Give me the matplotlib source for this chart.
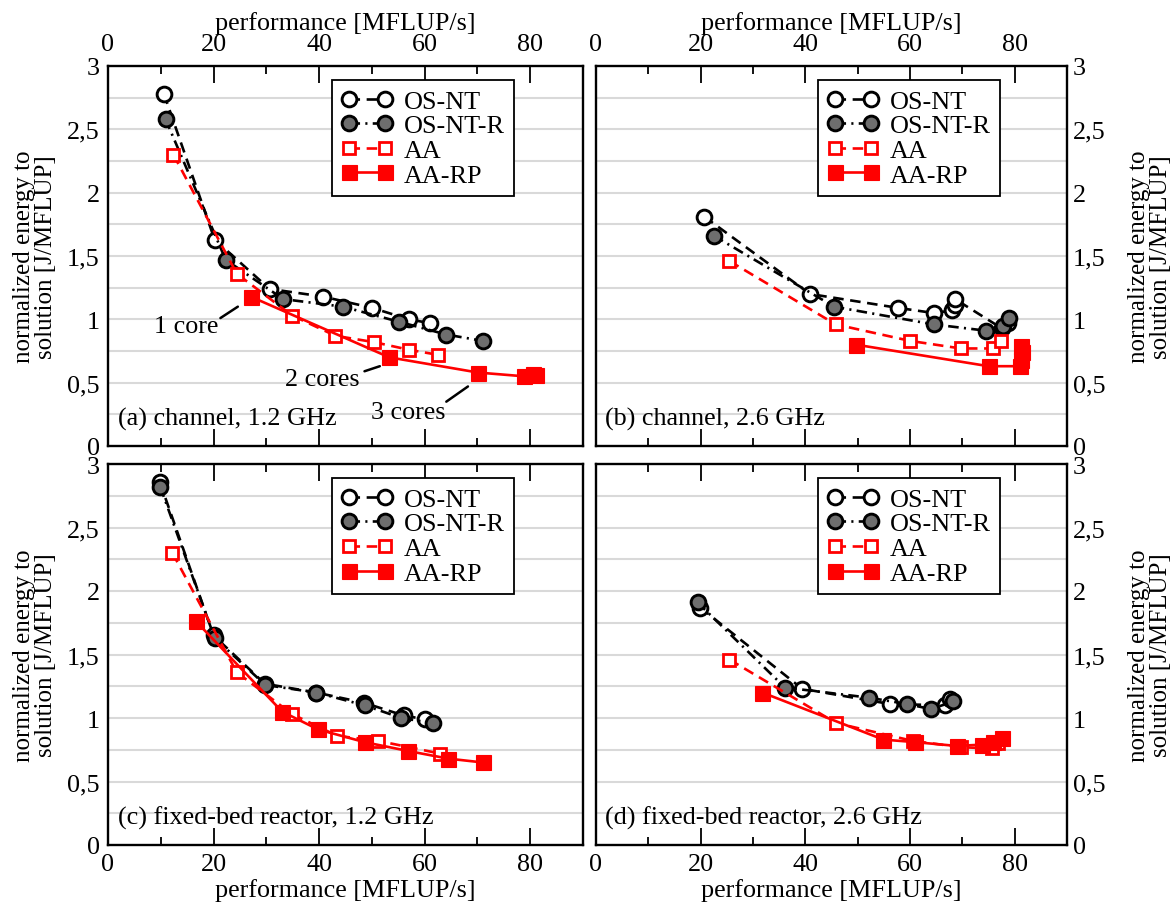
import matplotlib
matplotlib.use("Agg")
import matplotlib.pyplot as plt
from matplotlib.ticker import FixedLocator, FixedFormatter

plt.rcParams['font.family'] = ['Liberation Serif', 'DejaVu Serif']
plt.rcParams['font.size'] = 18.8

# ---------------- data ----------------
series_names = ["OS-NT", "OS-NT-R", "AA", "AA-RP"]
panel_titles = ["(a) channel, 1.2 GHz", "(b) channel, 2.6 GHz",
                "(c) fixed-bed reactor, 1.2 GHz", "(d) fixed-bed reactor, 2.6 GHz"]

# (a) channel 1.2 GHz
a_osnt_x = [10.6, 20.2, 30.6, 40.7, 50.1, 57.0, 61.0]
a_osnt_y = [2.78, 1.63, 1.24, 1.18, 1.09, 1.00, 0.97]
a_osntr_x = [10.9, 22.3, 33.2, 44.5, 55.2, 64.1, 71.0]
a_osntr_y = [2.58, 1.47, 1.16, 1.10, 0.98, 0.88, 0.83]
a_aa_x = [12.4, 24.4, 34.9, 43.1, 50.4, 57.0, 62.5]
a_aa_y = [2.30, 1.36, 1.03, 0.87, 0.82, 0.76, 0.72]
a_aarp_x = [27.0, 53.3, 70.1, 78.9, 80.5, 81.0]
a_aarp_y = [1.18, 0.70, 0.58, 0.55, 0.57, 0.56]

# (b) channel 2.6 GHz
b_osnt_x = [20.7, 40.9, 57.8, 64.5, 68.1, 68.6, 68.6, 77.5, 78.8]
b_osnt_y = [1.81, 1.20, 1.09, 1.05, 1.07, 1.11, 1.16, 0.93, 0.97]
b_osntr_x = [22.5, 45.5, 64.5, 74.6, 77.8, 79.0]
b_osntr_y = [1.66, 1.10, 0.96, 0.91, 0.95, 1.01]
b_aa_x = [25.5, 45.8, 60.0, 69.7, 75.9, 77.3]
b_aa_y = [1.46, 0.96, 0.83, 0.77, 0.77, 0.83]
b_aarp_x = [49.7, 75.0, 81.0, 81.3, 81.4, 81.2]
b_aarp_y = [0.80, 0.63, 0.63, 0.68, 0.74, 0.79]

# (c) fixed-bed reactor 1.2 GHz
c_osnt_x = [9.8, 20.0, 29.7, 39.5, 48.5, 56.0, 60.0]
c_osnt_y = [2.86, 1.65, 1.27, 1.20, 1.12, 1.02, 0.99]
c_osntr_x = [9.9, 20.2, 29.8, 39.5, 48.6, 55.6, 61.5]
c_osntr_y = [2.82, 1.63, 1.26, 1.20, 1.10, 1.00, 0.96]
c_aa_x = [12.2, 24.4, 34.9, 43.4, 51.2, 62.9]
c_aa_y = [2.30, 1.36, 1.03, 0.86, 0.82, 0.72]
c_aarp_x = [16.7, 33.0, 39.8, 48.6, 56.9, 64.5, 71.0]
c_aarp_y = [1.76, 1.05, 0.91, 0.81, 0.74, 0.68, 0.65]

# (d) fixed-bed reactor 2.6 GHz
d_osnt_x = [19.9, 39.4, 56.2, 66.7, 67.6]
d_osnt_y = [1.87, 1.23, 1.11, 1.10, 1.15]
d_osntr_x = [19.4, 36.1, 52.2, 59.4, 64.0, 68.3]
d_osntr_y = [1.91, 1.24, 1.16, 1.11, 1.07, 1.13]
d_aa_x = [25.5, 45.9, 60.5, 69.7, 75.6, 76.9]
d_aa_y = [1.46, 0.96, 0.82, 0.77, 0.76, 0.80]
d_aarp_x = [31.8, 54.9, 61.0, 68.9, 73.7, 75.9, 77.5]
d_aarp_y = [1.20, 0.83, 0.81, 0.78, 0.79, 0.81, 0.84]

panels = [
    [(a_osnt_x, a_osnt_y), (a_osntr_x, a_osntr_y), (a_aa_x, a_aa_y), (a_aarp_x, a_aarp_y)],
    [(b_osnt_x, b_osnt_y), (b_osntr_x, b_osntr_y), (b_aa_x, b_aa_y), (b_aarp_x, b_aarp_y)],
    [(c_osnt_x, c_osnt_y), (c_osntr_x, c_osntr_y), (c_aa_x, c_aa_y), (c_aarp_x, c_aarp_y)],
    [(d_osnt_x, d_osnt_y), (d_osntr_x, d_osntr_y), (d_aa_x, d_aa_y), (d_aarp_x, d_aarp_y)],
]

x_ticks = [0, 20, 40, 60, 80]
x_minor = [10, 30, 50, 70]
x_tick_labels = ["0", "20", "40", "60", "80"]
y_ticks = [0, 0.5, 1, 1.5, 2, 2.5, 3]
y_tick_labels = ["0", "0,5", "1", "1,5", "2", "2,5", "3"]
y_grid = [0.25, 0.5, 0.75, 1.0, 1.25, 1.5, 1.75, 2.0, 2.25, 2.5, 2.75]

core_labels = ["1 core", "2 cores", "3 cores"]
core_text_xy = [(14.8, 0.95), (40.7, 0.53), (56.8, 0.27)]
core_line_from = [(21.3, 1.01), (48.6, 0.59), (64.1, 0.35)]
core_line_to = [(24.6, 1.10), (51.5, 0.63), (68.2, 0.47)]

xlabel = "performance [MFLUP/s]"
ylabel = "normalized energy to\nsolution [J/MFLUP]"

# ---------------- styles ----------------
styles = [
    dict(color='black', ls=(0, (4, 2.5)), lw=1.9, marker='o', ms=10.6, mfc='white', mec='black', mew=2.1),
    dict(color='black', ls=(0, (4, 2, 0.8, 2)), lw=1.9, marker='o', ms=10.6, mfc='#6e6e6e', mec='black', mew=2.1),
    dict(color='#ff0000', ls=(0, (4, 2.5)), lw=1.9, marker='s', ms=8.8, mfc='white', mec='#ff0000', mew=2.0),
    dict(color='#ff0000', ls='-', lw=1.9, marker='s', ms=10.8, mfc='#ff0000', mec='#ff0000', mew=0.8),
]

W, H = 1173, 912
fig = plt.figure(figsize=(W / 100, H / 100), dpi=100)
rects = [
    (108, 67, 583, 447),
    (596, 67, 1067, 447),
    (108, 465, 583, 846),
    (596, 465, 1067, 846),
]
axes = []
for (x0, y0, x1, y1) in rects:
    ax = fig.add_axes([x0 / W, 1 - y1 / H, (x1 - x0) / W, (y1 - y0) / H])
    axes.append(ax)

for i, ax in enumerate(axes):
    top = i < 2
    right = i % 2 == 1
    for gy in y_grid:
        ax.axhline(gy, color='#d9d9d9', lw=1.5, zorder=0)
    handles = []
    for (xs, ys), st, name in zip(panels[i], styles, series_names):
        h, = ax.plot(xs, ys, label=name, zorder=3, **st)
        handles.append(h)
    ax.set_xlim(0, 90)
    ax.set_ylim(0, 3)
    ax.xaxis.set_major_locator(FixedLocator(x_ticks))
    ax.xaxis.set_major_formatter(FixedFormatter(x_tick_labels))
    ax.xaxis.set_minor_locator(FixedLocator(x_minor))
    ax.yaxis.set_major_locator(FixedLocator(y_ticks))
    ax.yaxis.set_major_formatter(FixedFormatter(y_tick_labels))
    ax.tick_params(axis='x', which='major', direction='in', length=12, width=1.3,
                   top=True, bottom=True, labeltop=top, labelbottom=not top,
                   pad=8 if top else 6, labelsize=18.8)
    ax.tick_params(axis='x', which='minor', direction='in', length=6, width=1.3,
                   top=True, bottom=True)
    ax.tick_params(axis='y', which='major', length=0, labelsize=18.8,
                   left=False, right=False, labelleft=not right, labelright=right,
                   pad=6 if not right else 4)
    for s in ax.spines.values():
        s.set_linewidth(1.7)
    if top:
        ax.xaxis.set_label_position('top')
        ax.set_xlabel(xlabel, fontsize=18.8)
        ax.xaxis.set_label_coords(0.5, 1.097)
    else:
        ax.set_xlabel(xlabel, fontsize=18.8)
        ax.xaxis.set_label_coords(0.5, -0.086)
    if right:
        ax.yaxis.set_label_position('right')
        ax.set_ylabel(ylabel, fontsize=18, rotation=90, linespacing=1.0)
        ax.yaxis.set_label_coords(1.13, 0.5)
    else:
        ax.set_ylabel(ylabel, fontsize=18, linespacing=1.0)
        ax.yaxis.set_label_coords(-0.107, 0.5)
    leg = ax.legend(handles=handles, loc='upper left', bbox_to_anchor=(0.471, 0.962),
                    borderaxespad=0, numpoints=2, handlelength=2.0, handletextpad=0.4,
                    borderpad=0.35, labelspacing=0.05, fancybox=False, framealpha=1,
                    edgecolor='black', fontsize=18.8)
    leg.get_frame().set_linewidth(1.3)
    ax.text(0.02, 0.072, panel_titles[i], transform=ax.transAxes, ha='left', va='center',
            fontsize=18.8, zorder=5)

# annotations in panel (a)
ax = axes[0]
for lab, txy, p0, p1 in zip(core_labels, core_text_xy, core_line_from, core_line_to):
    ax.text(txy[0], txy[1], lab, ha='center', va='center', fontsize=18.8, zorder=5)
    ax.annotate('', xy=p1, xytext=p0,
                arrowprops=dict(arrowstyle='-', lw=1.8, color='black', shrinkA=0, shrinkB=0),
                zorder=4)

fig.savefig("out.png", dpi=100)
